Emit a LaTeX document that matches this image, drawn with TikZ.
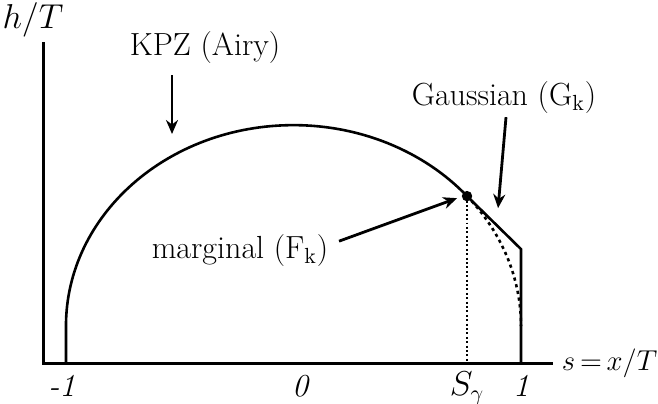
\documentclass[tikz,border=0pt]{standalone}
\usetikzlibrary{arrows.meta}
\begin{document}
\begin{tikzpicture}[x=4cm,y=4cm,>={Stealth[length=7pt,width=6pt]},
    font=\fontsize{16}{19}\selectfont,
    axisline/.style={line width=1.5pt},
    curveline/.style={line width=1.3pt},
    pointer/.style={->,line width=1.4pt},
    ticklabel/.style={font=\fontsize{16}{19}\selectfont\itshape}]
  \useasboundingbox (-1.290,-0.176) rectangle (1.602,1.596);
  %Truc toa do
  \coordinate (O) at (-1.097,0);
  \coordinate (ytop) at (-1.097,1.411);
  \coordinate (xend) at (1.141,0);
  \draw[axisline] (ytop) -- (O) -- (xend);
  \node (hlab) at (-1.145,1.508) {$h/T$};
  \node[anchor=west,inner sep=0pt,font=\fontsize{14}{17}\selectfont] (slab) at (1.178,0) {$s\,{=}\,x/T$};
  %Duong cong
  \coordinate (left) at (-1,0);
  \coordinate (leftup) at (-1,0.163);
  \coordinate (sg) at ({cos(40.3)},{0.163+0.883*sin(40.3)});
  \coordinate (sgfoot) at ({cos(40.3)},0);
  \coordinate (corner) at (1,0.501);
  \coordinate (right) at (1,0);
  \draw[curveline] (left) -- (leftup) arc[start angle=180,end angle=40.3,x radius=1,y radius=0.883]
    -- (corner) -- (right);
  \draw[curveline,dash pattern=on 1.6pt off 1.8pt] (sg) arc[start angle=40.3,end angle=0,x radius=1,y radius=0.883];
  \draw[line width=0.6pt,dash pattern=on 1pt off 1.2pt] (sg) -- (sgfoot);
  \fill (sg) circle[radius=2.6pt];
  %Nhan truc
  \node[ticklabel] (mone) at (-1.018,-0.101) {-1};
  \node[ticklabel] (zero) at (0.029,-0.101) {0};
  \node (sgam) at ({cos(40.3)},-0.110) {$S_\gamma$};
  \node[ticklabel] (one) at (1.0,-0.101) {1};
  %Chu thich
  \node (kpz) at (-0.389,1.385) {KPZ (Airy)};
  \node (gauss) at (0.925,1.169) {Gaussian (G$_{\mathrm{k}}$)};
  \node (marg) at (-0.235,0.497) {marginal (F$_{\mathrm{k}}$)};
  \coordinate (kpzfrom) at (-0.534,1.266);
  \coordinate (kpzto) at (-0.534,1.007);
  \coordinate (gaussfrom) at (0.934,1.081);
  \coordinate (gaussto) at (0.899,0.681);
  \coordinate (margfrom) at (0.200,0.536);
  \coordinate (margto) at (0.719,0.725);
  \draw[pointer] (kpzfrom) -- (kpzto);
  \draw[pointer] (gaussfrom) -- (gaussto);
  \draw[pointer] (margfrom) -- (margto);
\end{tikzpicture}
\end{document}
